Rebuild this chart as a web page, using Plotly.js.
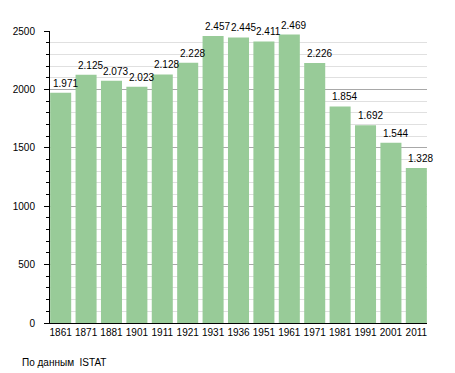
<!DOCTYPE html>
<html>
<head>
<meta charset="utf-8">
<script src="https://cdn.plot.ly/plotly-3.0.1.min.js"></script>
<style>html,body{margin:0;padding:0;background:#fff;}#chart{width:455px;height:373px;}</style>
</head>
<body>
<div id="chart"></div>
<script>
const years = ["1861","1871","1881","1901","1911","1921","1931","1936","1951","1961","1971","1981","1991","2001","2011"];
const population = [1971, 2125, 2073, 2023, 2128, 2228, 2457, 2445, 2411, 2469, 2226, 1854, 1692, 1544, 1328];
const valueLabels = ["1.971","2.125","2.073","2.023","2.128","2.228","2.457","2.445","2.411","2.469","2.226","1.854","1.692","1.544","1.328"];
const yTicks = [0, 500, 1000, 1500, 2000, 2500];
const sourceNote = "По данным  ISTAT";

const font = "Arial, 'Liberation Sans', sans-serif";

// category axis: annotation x uses the serial index of each category
const labelAnnotations = years.map((yr, i) => ({
  x: i, y: population[i],
  xref: 'x', yref: 'y',
  text: valueLabels[i],
  showarrow: false,
  xanchor: 'left', yanchor: 'bottom',
  xshift: -10, yshift: 2,
  font: {family: font, size: 10, color: '#000'}
}));

Plotly.newPlot('chart', [{
  type: 'bar',
  x: years,
  y: population,
  cliponaxis: false,
  marker: {color: 'rgb(152,203,152)', line: {width: 0}},
  hoverinfo: 'none'
}], {
  width: 455, height: 373,
  margin: {l: 50, r: 28, t: 31, b: 50, pad: 0},
  paper_bgcolor: '#fff', plot_bgcolor: '#fff',
  bargap: 0.172,
  showlegend: false,
  font: {family: font, size: 10, color: '#000'},
  xaxis: {
    type: 'category',
    range: [-0.42, 14.42],
    showline: true, linecolor: '#000', linewidth: 1,
    ticks: '', showgrid: false, zeroline: false,
    tickfont: {family: font, size: 10, color: '#000'},
    fixedrange: true
  },
  yaxis: {
    range: [0, 2500],
    tickvals: yTicks,
    ticktext: yTicks.map(String),
    showline: true, linecolor: '#000', linewidth: 1,
    ticks: 'outside', ticklen: 5, tickcolor: '#000', tickwidth: 1,
    ticklabelstandoff: 7,
    showgrid: true, gridcolor: '#a8a8a8', gridwidth: 1,
    zeroline: false,
    tickfont: {family: font, size: 10, color: '#000'},
    minor: {dtick: 100, ticks: 'outside', ticklen: 3, tickcolor: '#000', showgrid: true, gridcolor: '#e0e0e0', gridwidth: 1},
    fixedrange: true
  },
  annotations: labelAnnotations.concat([{
    text: sourceNote,
    xref: 'paper', yref: 'paper',
    x: (20 - 50) / 377, y: (323 - 362) / 292,
    xanchor: 'left', yanchor: 'middle',
    showarrow: false,
    font: {family: font, size: 10, color: '#000'}
  }])
}, {staticPlot: true, displayModeBar: false});
</script>
</body>
</html>
